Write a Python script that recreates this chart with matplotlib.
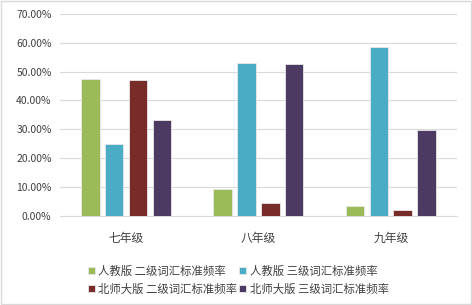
import matplotlib.pyplot as plt
import numpy as np
from matplotlib.ticker import PercentFormatter

plt.rcParams['font.family'] = ['Noto Sans CJK SC', 'DejaVu Sans']

grades = ['七年级', '八年级', '九年级']
series_names = ['人教版 二级词汇标准频率', '人教版 三级词汇标准频率',
                '北师大版 二级词汇标准频率', '北师大版 三级词汇标准频率']
pep_level2 = [0.475, 0.093, 0.035]
pep_level3 = [0.247, 0.531, 0.587]
bnu_level2 = [0.472, 0.044, 0.020]
bnu_level3 = [0.332, 0.527, 0.297]
colors = ['#9BBB59', '#4BACC6', '#772C2A', '#4C3A62']

fig = plt.figure(figsize=(4.72, 3.05), dpi=100)
ax = fig.add_axes([0.127, 0.293, 0.841, 0.661])

x = np.arange(len(grades))
width = 0.14
step = 0.18
all_series = [pep_level2, pep_level3, bnu_level2, bnu_level3]
bars = []
for i, (vals, name, c) in enumerate(zip(all_series, series_names, colors)):
    b = ax.bar(x + (i - 1.5) * step, vals, width, color=c, label=name,
               edgecolor='#e8e8e8', linewidth=0.6, zorder=3)
    bars.append(b)

ax.set_xlim(-0.5, 2.5)
ax.set_ylim(0, 0.7)
ax.set_yticks(np.arange(0, 0.71, 0.1))
ax.yaxis.set_major_formatter(PercentFormatter(1.0, decimals=2))
ax.set_xticks(x)
ax.set_xticklabels(grades)
ax.grid(axis='y', color='#D9D9D9', linewidth=0.8, zorder=0)
for s in ['top', 'right', 'left']:
    ax.spines[s].set_visible(False)
ax.spines['bottom'].set_color('#D9D9D9')
ax.tick_params(length=0, labelsize=7.5, colors='#404040', pad=6)
ax.tick_params(axis='x', labelsize=8.5, pad=12)

# legend fills by column, so reorder to get row-wise order
order = [0, 2, 1, 3]
fig.legend([bars[k] for k in order], [series_names[k] for k in order],
           loc='lower center', bbox_to_anchor=(0.505, 0.0), ncol=2, frameon=False,
           fontsize=8.2, handlelength=0.6, handleheight=0.6, handletextpad=0.3,
           columnspacing=0.2, labelspacing=0.6, labelcolor='#404040')

fig.patches.append(plt.Rectangle((0.002, 0.003), 0.995, 0.993, transform=fig.transFigure,
                                 fill=False, edgecolor='#D9D9D9', linewidth=1))

fig.savefig('out.png', dpi=100)
